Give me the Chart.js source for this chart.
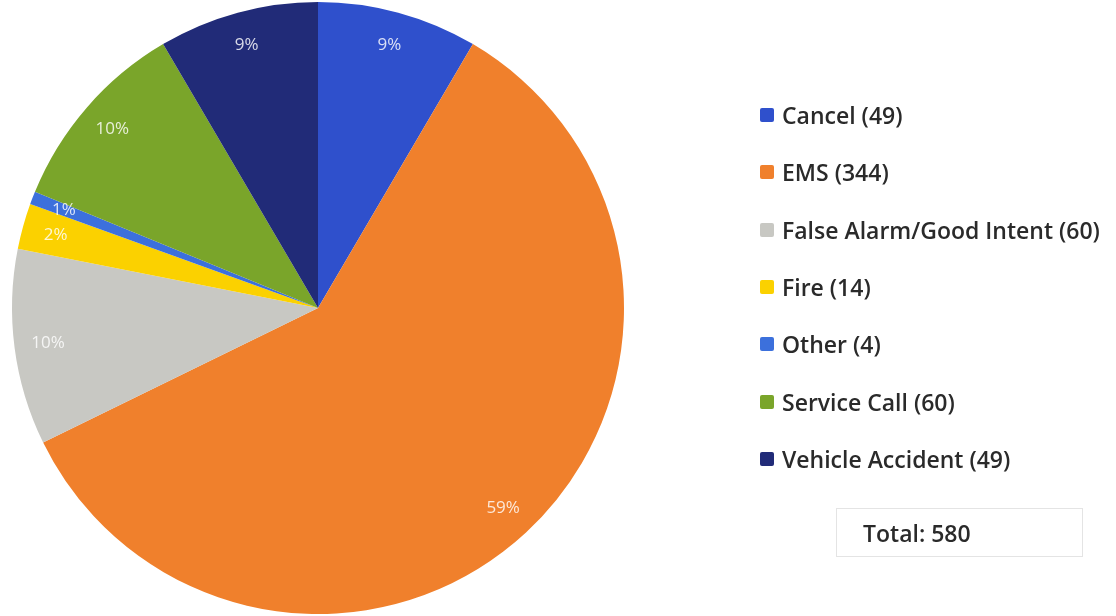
<!DOCTYPE html>
<html>
<head>
<meta charset="utf-8">
<script src="https://cdn.jsdelivr.net/npm/chart.js@4/dist/chart.umd.min.js"></script>
<style>
  html, body { margin: 0; padding: 0; background: #fff; }
  #wrap { position: relative; width: 1116px; height: 616px; overflow: hidden; }
  #pie { position: absolute; left: 0; top: 0; }
  #legend { position: absolute; left: 760px; top: 0; font-family: "Open Sans", sans-serif; font-size: 23px; font-weight: 600; color: #2a2a2a; }
  .item { position: absolute; left: 0; white-space: nowrap; height: 26px; line-height: 26px; }
  .sw { position: absolute; left: 0; top: 6px; width: 14px; height: 14px; border-radius: 2px; }
  .lbl { position: absolute; left: 22px; top: 0; }
  #total { position: absolute; left: 836px; top: 508px; width: 247px; height: 49px; border: 1px solid #e4e4e4;
           font-family: "Open Sans", sans-serif; font-size: 23px; font-weight: 600; color: #2a2a2a; line-height: 49px; box-sizing: border-box; padding-left: 26px; }
</style>
</head>
<body>
<div id="wrap">
  <canvas id="pie" width="1116" height="616"></canvas>
  <div id="legend"></div>
  <div id="total"></div>
</div>
<script>
const categories = ["Cancel", "EMS", "False Alarm/Good Intent", "Fire", "Other", "Service Call", "Vehicle Accident"]
const counts = [49, 344, 60, 14, 4, 60, 49]
const pctLabels = ["9%", "59%", "10%", "2%", "1%", "10%", "9%"]
const colors = ["#2f50cc", "#f0802c", "#c8c8c3", "#fbd100", "#3c70dc", "#7aa52a", "#212b78"]

const total = counts.reduce((a, b) => a + b, 0)

// legend rows on the right
const legend = document.getElementById("legend")
categories.forEach((name, i) => {
  const row = document.createElement("div")
  row.className = "item"
  row.style.top = (102 + i * 57.3) + "px"
  row.innerHTML = `<span class="sw" style="background:${colors[i]}"></span><span class="lbl">${name} (${counts[i]})</span>`
  legend.appendChild(row)
})
document.getElementById("total").textContent = `Total: ${total}`

// percentage text inside each slice
const sliceLabels = {
  id: "sliceLabels",
  afterDatasetsDraw(chart) {
    const ctx = chart.ctx
    const meta = chart.getDatasetMeta(0)
    ctx.save()
    ctx.font = "17px 'Open Sans', sans-serif"
    ctx.textAlign = "center"
    ctx.textBaseline = "middle"
    ctx.fillStyle = "rgba(255,255,255,0.82)"
    meta.data.forEach((arc, i) => {
      const { x, y, startAngle, endAngle, outerRadius } = arc.getProps(["x", "y", "startAngle", "endAngle", "outerRadius"], true)
      const mid = (startAngle + endAngle) / 2
      const r = outerRadius * 0.89
      ctx.fillText(pctLabels[i], x + Math.cos(mid) * r, y + Math.sin(mid) * r)
    })
    ctx.restore()
  }
}

new Chart(document.getElementById("pie"), {
  type: "pie",
  data: {
    labels: categories,
    datasets: [{
      data: counts,
      backgroundColor: colors,
      borderWidth: 0
    }]
  },
  options: {
    responsive: false,
    animation: false,
    layout: { padding: { left: 12, right: 492, top: 2, bottom: 2 } },
    plugins: {
      legend: { display: false },
      tooltip: { enabled: false }
    }
  },
  plugins: [sliceLabels]
})
</script>
</body>
</html>
